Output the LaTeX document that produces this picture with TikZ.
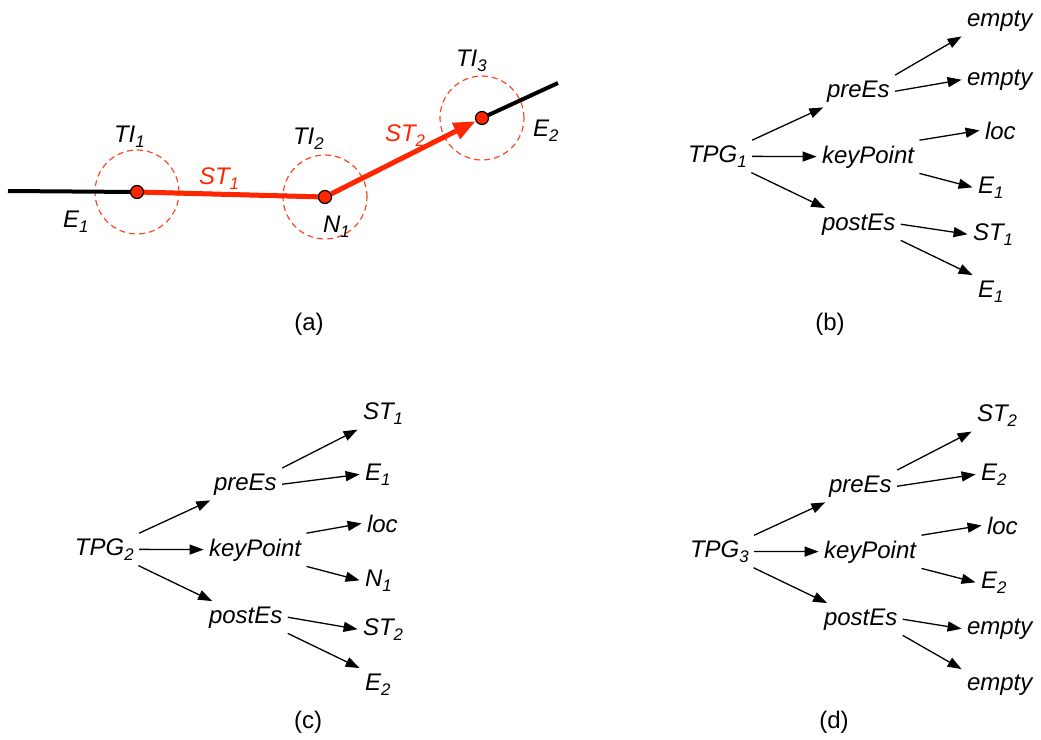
\documentclass[tikz,border=0pt]{standalone}
\usepackage{fontspec}
\setmainfont{Liberation Sans}
\usetikzlibrary{arrows.meta,backgrounds}
\definecolor{trred}{RGB}{255,38,0}
\newcommand{\sbs}[1]{\raisebox{-2.6pt}{\fontsize{8.4}{9}\selectfont #1}}

\begin{document}
\begin{tikzpicture}[x=0.5pt,y=-0.5pt,
  lb/.style={anchor=text,inner sep=2.5pt,font=\fontsize{12}{14}\selectfont\itshape},
  sublbl/.style={font=\fontsize{12}{14}\selectfont},
  ar/.style={-{Triangle[length=7pt,width=5pt]},line width=0.65pt},
  dot/.style={circle,draw=black,fill=trred,line width=0.6pt,inner sep=0pt,minimum size=6.5pt},
  zone/.style={circle,draw=trred!85,dash pattern=on 3pt off 2pt,line width=0.6pt,minimum size=42pt,inner sep=0pt},
  road/.style={line width=2pt,black},
  trk/.style={line width=2.5pt,trred}]
\path[use as bounding box] (0,0) rectangle (1041,740);
% (a) the trajectory
\coordinate (e1end) at (8,191);
\coordinate (e2end) at (558,83);
\node[dot] (p1) at (137,192) {};
\node[dot] (p2) at (325,197) {};
\node[dot] (p3) at (482,118) {};
\begin{pgfonlayer}{background}
\node[zone] (z1) at (p1) {};
\node[zone] (z2) at (p2) {};
\node[zone] (z3) at (p3) {};
\draw[road] (e1end) -- (p1.center) -- (p2.center);
\draw[road] (p3.center) -- (e2end);
\draw[trk,yshift=0.5pt] (p1.center) -- (p2.center);
\draw[trk,-{Triangle[length=11pt,width=8.5pt]}] (p2) -- (p3);
\end{pgfonlayer}
\node[lb] (ti1) at (114,142) {TI\sbs{1}};
\node[lb] (ti2) at (293,144) {TI\sbs{2}};
\node[lb] (ti3) at (456,66) {TI\sbs{3}};
\node[lb,text=trred] (st1) at (199,184) {ST\sbs{1}};
\node[lb,text=trred] (st2) at (385,141) {ST\sbs{2}};
\node[lb] (e1) at (63,227) {E\sbs{1}};
\node[lb] (n1) at (323,232) {N\sbs{1}};
\node[lb] (e2) at (533,136) {E\sbs{2}};
\node[sublbl] (capa) at (309,324) {(a)};
% (b) TPG 1
\node[lb] (tpgb) at (688,162) {TPG\sbs{1}};
\node[lb] (preb) at (827,97) {preEs};
\node[lb] (keyb) at (822,163) {keyPoint};
\node[lb] (postb) at (822,230) {postEs};
\node[lb] (b1) at (967,26) {empty};
\node[lb] (b2) at (967,85) {empty};
\node[lb] (b3) at (985,139) {loc};
\node[lb] (b4) at (978,193) {E\sbs{1}};
\node[lb] (b5) at (973,240) {ST\sbs{1}};
\node[lb] (b6) at (978,297) {E\sbs{1}};
\draw[ar] (tpgb)--(preb); \draw[ar] (tpgb)--(keyb); \draw[ar] (tpgb)--(postb);
\draw[ar] (preb.north east)--(b1.south west); \draw[ar] (preb.east)--(b2.west);
\draw[ar] (keyb.north east)--(b3.west); \draw[ar] (keyb.south east)--(b4.west);
\draw[ar] (postb.east)--(b5.west); \draw[ar] (postb.south east)--(b6.north west);
\node[sublbl] (capb) at (830,324) {(b)};
% (c) TPG 2
\node[lb] (tpgc) at (75,555) {TPG\sbs{2}};
\node[lb] (prec) at (214,490) {preEs};
\node[lb] (keyc) at (209,556) {keyPoint};
\node[lb] (postc) at (209,623) {postEs};
\node[lb] (c1) at (363,419) {ST\sbs{1}};
\node[lb] (c2) at (365,480) {E\sbs{1}};
\node[lb] (c3) at (367,532) {loc};
\node[lb] (c4) at (365,586) {N\sbs{1}};
\node[lb] (c5) at (363,635) {ST\sbs{2}};
\node[lb] (c6) at (365,690) {E\sbs{2}};
\draw[ar] (tpgc)--(prec); \draw[ar] (tpgc)--(keyc); \draw[ar] (tpgc)--(postc);
\draw[ar] (prec.north east)--(c1.south west); \draw[ar] (prec.east)--(c2.west);
\draw[ar] (keyc.north east)--(c3.west); \draw[ar] (keyc.south east)--(c4.west);
\draw[ar] (postc.east)--(c5.west); \draw[ar] (postc.south east)--(c6.north west);
\node[sublbl] (capc) at (308,722) {(c)};
% (d) TPG 3
\node[lb] (tpgd) at (690,557) {TPG\sbs{3}};
\node[lb] (pred) at (829,492) {preEs};
\node[lb] (keyd) at (824,558) {keyPoint};
\node[lb] (postd) at (824,625) {postEs};
\node[lb] (d1) at (977,421) {ST\sbs{2}};
\node[lb] (d2) at (981,480) {E\sbs{2}};
\node[lb] (d3) at (987,534) {loc};
\node[lb] (d4) at (981,588) {E\sbs{2}};
\node[lb] (d5) at (967,634) {empty};
\node[lb] (d6) at (967,690) {empty};
\draw[ar] (tpgd)--(pred); \draw[ar] (tpgd)--(keyd); \draw[ar] (tpgd)--(postd);
\draw[ar] (pred.north east)--(d1.south west); \draw[ar] (pred.east)--(d2.west);
\draw[ar] (keyd.north east)--(d3.west); \draw[ar] (keyd.south east)--(d4.west);
\draw[ar] (postd.east)--(d5.west); \draw[ar] (postd.south east)--(d6.north west);
\node[sublbl] (capd) at (834,722) {(d)};
\end{tikzpicture}
\end{document}
